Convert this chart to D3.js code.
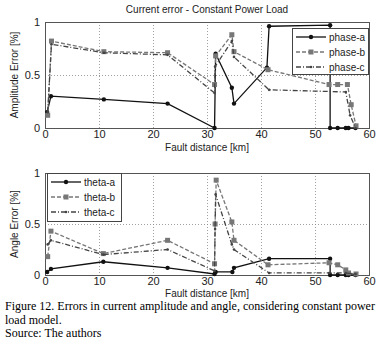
<!DOCTYPE html>
<html>
<head>
<meta charset="utf-8">
<script src="https://cdn.jsdelivr.net/npm/d3@7"></script>
<style>
body { margin: 0; background: #fff; }
svg { display: block; }
</style>
</head>
<body>
<svg id="chart" width="382" height="349"></svg>
<script>
// amplitude errors (top plot)
var phaseA = [[0.4,0.15],[1.1,0.30],[10.9,0.27],[22.7,0.23],[31.4,0.0],[31.6,0.70],[34.6,0.38],[35,0.23],[41.1,0.57],[41.5,0.96],[52.8,0.97],[52.8,0.0],[54.2,0.0],[55.7,0.0],[56.2,0.0],[57.5,0.0]]
var phaseB = [[0.5,0.12],[1.2,0.82],[10.9,0.72],[22.7,0.71],[31.4,0.41],[31.6,0.68],[34.6,0.88],[35,0.72],[41.3,0.55],[52.6,0.41],[54.2,0.41],[56,0.41],[56.7,0.22],[57.6,0.02]]
var phaseC = [[0.5,0.15],[1.2,0.79],[10.9,0.71],[22.7,0.69],[31.4,0.33],[31.5,0.58],[34.6,0.82],[35,0.67],[41.5,0.36],[55.7,0.34],[56.5,0.12],[57.5,0.0]]
// angle errors (bottom plot)
var thetaA = [[0.4,0.03],[1.1,0.06],[10.8,0.13],[22.7,0.07],[31.4,0.01],[31.6,0.03],[34.7,0.03],[35,0.07],[41.5,0.16],[52.8,0.16],[52.8,0.0],[54.2,0.0],[55.7,0.0],[56.2,0.0],[57.5,0.0]]
var thetaB = [[0.5,0.18],[1.1,0.43],[10.8,0.21],[22.7,0.34],[31.4,0.11],[31.5,0.50],[31.7,0.93],[34.6,0.52],[35,0.34],[41.3,0.10],[52.6,0.12],[54.2,0.10],[55.7,0.05],[56.2,0.02],[57.6,0.01]]
var thetaC = [[0.5,0.30],[1.1,0.34],[10.8,0.20],[22.7,0.25],[31.4,0.04],[31.5,0.45],[31.6,0.79],[34.6,0.30],[35,0.25],[41.5,0.02],[52.6,0.02],[55.7,0.02],[57.5,0.01]]

var xTicks = [0,10,20,30,40,50,60]
var yTicks = [0,0.5,1]

var svg = d3.select('#chart')
var font = 'Liberation Sans, Arial, sans-serif'

function drawPanel(top, bottom, series, names, ylabel, legendBox, xlabY){
    var x = d3.scaleLinear().domain([0,60]).range([45,369])
    var y = d3.scaleLinear().domain([0,1]).range([bottom,top])
    var g = svg.append('g')

    // grid
    g.selectAll('.gx').data(xTicks.slice(1,-1)).enter().append('line')
        .attr('x1',d=>x(d)+0.5).attr('x2',d=>x(d)+0.5).attr('y1',top).attr('y2',bottom)
        .attr('stroke','#888').attr('stroke-dasharray','1,2').attr('stroke-width',0.8)
    g.selectAll('.gy').data(yTicks.slice(1,-1)).enter().append('line')
        .attr('y1',d=>y(d)+0.5).attr('y2',d=>y(d)+0.5).attr('x1',45).attr('x2',369)
        .attr('stroke','#888').attr('stroke-dasharray','1,2').attr('stroke-width',0.8)

    g.append('rect').attr('x',45.5).attr('y',top+0.5).attr('width',324).attr('height',bottom-top)
        .attr('fill','none').attr('stroke','#555').attr('stroke-width',1)

    var xAxis = d3.axisBottom(x).tickValues(xTicks).tickSize(0).tickPadding(2)
    var ax = g.append('g').attr('transform','translate(0,' + bottom + ')').call(xAxis)
    ax.select('.domain').remove()
    ax.selectAll('text').attr('font-family',font).attr('font-size',11).attr('fill','#222')

    var yAxis = d3.axisLeft(y).tickValues(yTicks).tickSize(0).tickPadding(5).tickFormat(d3.format('~g'))
    var ay = g.append('g').attr('transform','translate(45,0)').call(yAxis)
    ay.select('.domain').remove()
    ay.selectAll('text').attr('font-family',font).attr('font-size',11).attr('fill','#222')

    g.append('text').attr('transform','translate(18,' + (top+bottom)/2 + ') rotate(-90)')
        .attr('text-anchor','middle').attr('font-family',font).attr('font-size',10).attr('fill','#222').text(ylabel)
    g.append('text').attr('x',207).attr('y',xlabY).attr('text-anchor','middle')
        .attr('font-family',font).attr('font-size',10).attr('fill','#222').text('Fault distance [km]')

    var styles = [
        {color:'#111', dash:null, marker:'circle'},
        {color:'#777', dash:'4,2', marker:'square'},
        {color:'#444', dash:'5,2,1,2', marker:'dot'}
    ]
    var line = d3.line().x(d=>x(d[0])).y(d=>y(d[1]))

    function marker(sel, st, cx, cy){
        if(st.marker=='circle'){
            sel.append('circle').attr('cx',cx).attr('cy',cy).attr('r',2.2).attr('fill',st.color)
        } else if(st.marker=='square'){
            sel.append('rect').attr('x',cx-2.5).attr('y',cy-2.5).attr('width',5).attr('height',5).attr('fill',st.color)
        } else {
            sel.append('circle').attr('cx',cx).attr('cy',cy).attr('r',1.3).attr('fill',st.color)
        }
    }

    series.forEach(function(s, i){
        var st = styles[i]
        g.append('path').datum(s).attr('d',line).attr('fill','none')
            .attr('stroke',st.color).attr('stroke-width',1.3)
            .attr('stroke-dasharray',st.dash)
        s.forEach(function(d){ marker(g, st, x(d[0]), y(d[1])) })
    })

    // legend
    var lg = g.append('g')
    lg.append('rect').attr('x',legendBox[0]+0.5).attr('y',legendBox[1]+0.5).attr('width',legendBox[2]).attr('height',legendBox[3])
        .attr('fill','#fff').attr('stroke','#444')
    names.forEach(function(n, i){
        var st = styles[i]
        var ly = legendBox[1] + 9 + i*15
        var lx = legendBox[0] + 4
        lg.append('line').attr('x1',lx).attr('x2',lx+30).attr('y1',ly).attr('y2',ly)
            .attr('stroke',st.color).attr('stroke-width',1.3).attr('stroke-dasharray',st.dash)
        marker(lg, st, lx+15, ly)
        lg.append('text').attr('x',lx+33).attr('y',ly+3.5).attr('font-family',font).attr('font-size',10)
            .attr('fill','#222').text(n)
    })
}

svg.append('text').attr('x',207).attr('y',13).attr('text-anchor','middle')
    .attr('font-family',font).attr('font-size',10).attr('fill','#222').text('Current error - Constant Power Load')

drawPanel(22, 128, [phaseA, phaseB, phaseC], ['phase-a','phase-b','phase-c'], 'Amplitude Error [%]', [292,28,76,46], 151)
drawPanel(173, 275, [thetaA, thetaB, thetaC], ['theta-a','theta-b','theta-c'], 'Angle Error [%]', [47,173,74,48], 297)

var cap = svg.append('g').attr('font-family','Liberation Serif, Times New Roman, serif').attr('font-size',12).attr('fill','#000')
cap.append('text').attr('x',5).attr('y',310).text('Figure 12. Errors in current amplitude and angle, considering constant power')
cap.append('text').attr('x',5).attr('y',323.5).text('load model.')
cap.append('text').attr('x',5).attr('y',337).text('Source: The authors')
</script>
</body>
</html>
